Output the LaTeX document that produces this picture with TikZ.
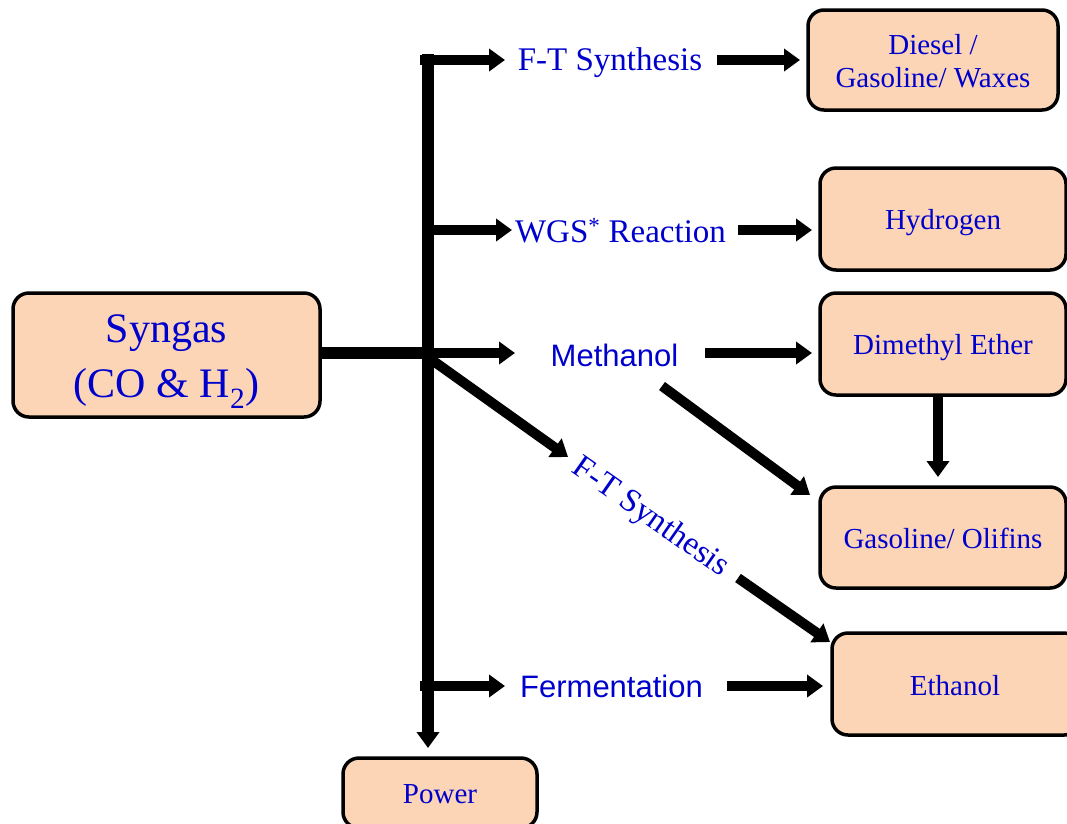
\documentclass[tikz,border=0pt]{standalone}
\usepackage{fontspec}
\setmainfont{Liberation Serif}
\newfontfamily\arialfont{Liberation Sans}
\usetikzlibrary{arrows.meta}
\definecolor{peach}{RGB}{251,213,181}
\definecolor{txtblue}{RGB}{0,0,205}
\tikzset{
  box/.style={draw=black, line width=3.5pt, fill=peach, rounded corners=16pt, inner sep=0pt},
  boxtxt/.style={text=txtblue, align=center, inner sep=0pt, font=\fontsize{29}{33}\selectfont},
  lbl/.style={text=txtblue, inner sep=0pt, font=\fontsize{33}{38}\selectfont},
  albl/.style={text=txtblue, inner sep=0pt, font=\arialfont\fontsize{31}{36}\selectfont},
  arr/.style={line width=10pt, -{Triangle[width=22pt,length=16pt]}},
  trunk/.style={line width=12pt},
}
\begin{document}
\begin{tikzpicture}[x=1pt,y=-1pt]
\clip (0,0) rectangle (1067,823);
\fill[white] (0,0) rectangle (1067,823);

% boxes
\node[box, minimum width=307pt, minimum height=124pt] (syn) at (166.5,355) {};
\node[box, minimum width=250pt, minimum height=100pt] (diesel) at (933,60) {};
\node[box, minimum width=246pt, minimum height=102pt] (hyd) at (943,219) {};
\node[box, minimum width=246pt, minimum height=102pt] (dme) at (943,344) {};
\node[box, minimum width=246pt, minimum height=101pt] (gas) at (943,537.5) {};
\node[box, minimum width=248pt, minimum height=102pt] (eth) at (956,684) {};
\node[box, minimum width=194pt, minimum height=70pt] (pow) at (440,793) {};

% box texts
\node[boxtxt, font=\fontsize{42}{55}\selectfont] (synT) at (166.5,362) {Syngas\\(CO \& H\textsubscript{2})};
\node[boxtxt] (dieselT) at (933,61) {Diesel /\\Gasoline/ Waxes};
\node[boxtxt] (hydT) at (943,223) {Hydrogen};
\node[boxtxt] (dmeT) at (943,348) {Dimethyl Ether};
\node[boxtxt] (gasT) at (943,538) {Gasoline/ Olifins};
\node[boxtxt] (ethT) at (955,686) {Ethanol};
\node[boxtxt] (powT) at (440,794) {Power};

% labels
\node[lbl] (ft1) at (610,63) {F-T Synthesis};
\node[lbl] (wgs) at (620.5,231) {WGS\textsuperscript{*} Reaction};
\node[albl] (meth) at (614.5,355) {Methanol};
\node[albl] (ferm) at (611.5,686) {Fermentation};
\node[lbl, rotate=-35] (ft2) at (650,518) {F-T Synthesis};

% junction coordinates
\coordinate (ttop) at (428,54);
\coordinate (tbot) at (428,748);
\coordinate (j) at (428,353);
\coordinate (b1) at (420,60);   \coordinate (e1) at (505,60);
\coordinate (b2) at (428,230);  \coordinate (e2) at (512,230);
\coordinate (e3) at (515,353);
\coordinate (b4) at (432,360);  \coordinate (e4) at (568,457);
\coordinate (b5) at (420,686);  \coordinate (e5) at (505,686);

% trunk and feed
\draw[trunk] (syn.east |- j) -- (j);
\draw[line width=12pt, -{Triangle[width=22pt,length=16pt]}] (ttop) -- (tbot);

% branches
\draw[arr] (b1) -- (e1);
\draw[arr] (b2) -- (e2);
\draw[arr] (j) -- (e3);
\draw[arr] (b4) -- (e4);
\draw[arr] (b5) -- (e5);

% product arrows
\coordinate (f1) at (717,60);  \coordinate (g1) at (800,60);
\coordinate (f2) at (738,230); \coordinate (g2) at (812,230);
\coordinate (f3) at (705,353); \coordinate (g3) at (812,353);
\coordinate (f4) at (662,386); \coordinate (g4) at (810,495);
\coordinate (f5) at (938,397); \coordinate (g5) at (938,477);
\coordinate (f6) at (738,578); \coordinate (g6) at (830,642);
\coordinate (f7) at (727,686); \coordinate (g7) at (823,686);
\draw[arr] (f1) -- (g1);
\draw[arr] (f2) -- (g2);
\draw[arr] (f3) -- (g3);
\draw[arr] (f4) -- (g4);
\draw[arr] (f5) -- (g5);
\draw[arr] (f6) -- (g6);
\draw[arr] (f7) -- (g7);
\end{tikzpicture}
\end{document}
